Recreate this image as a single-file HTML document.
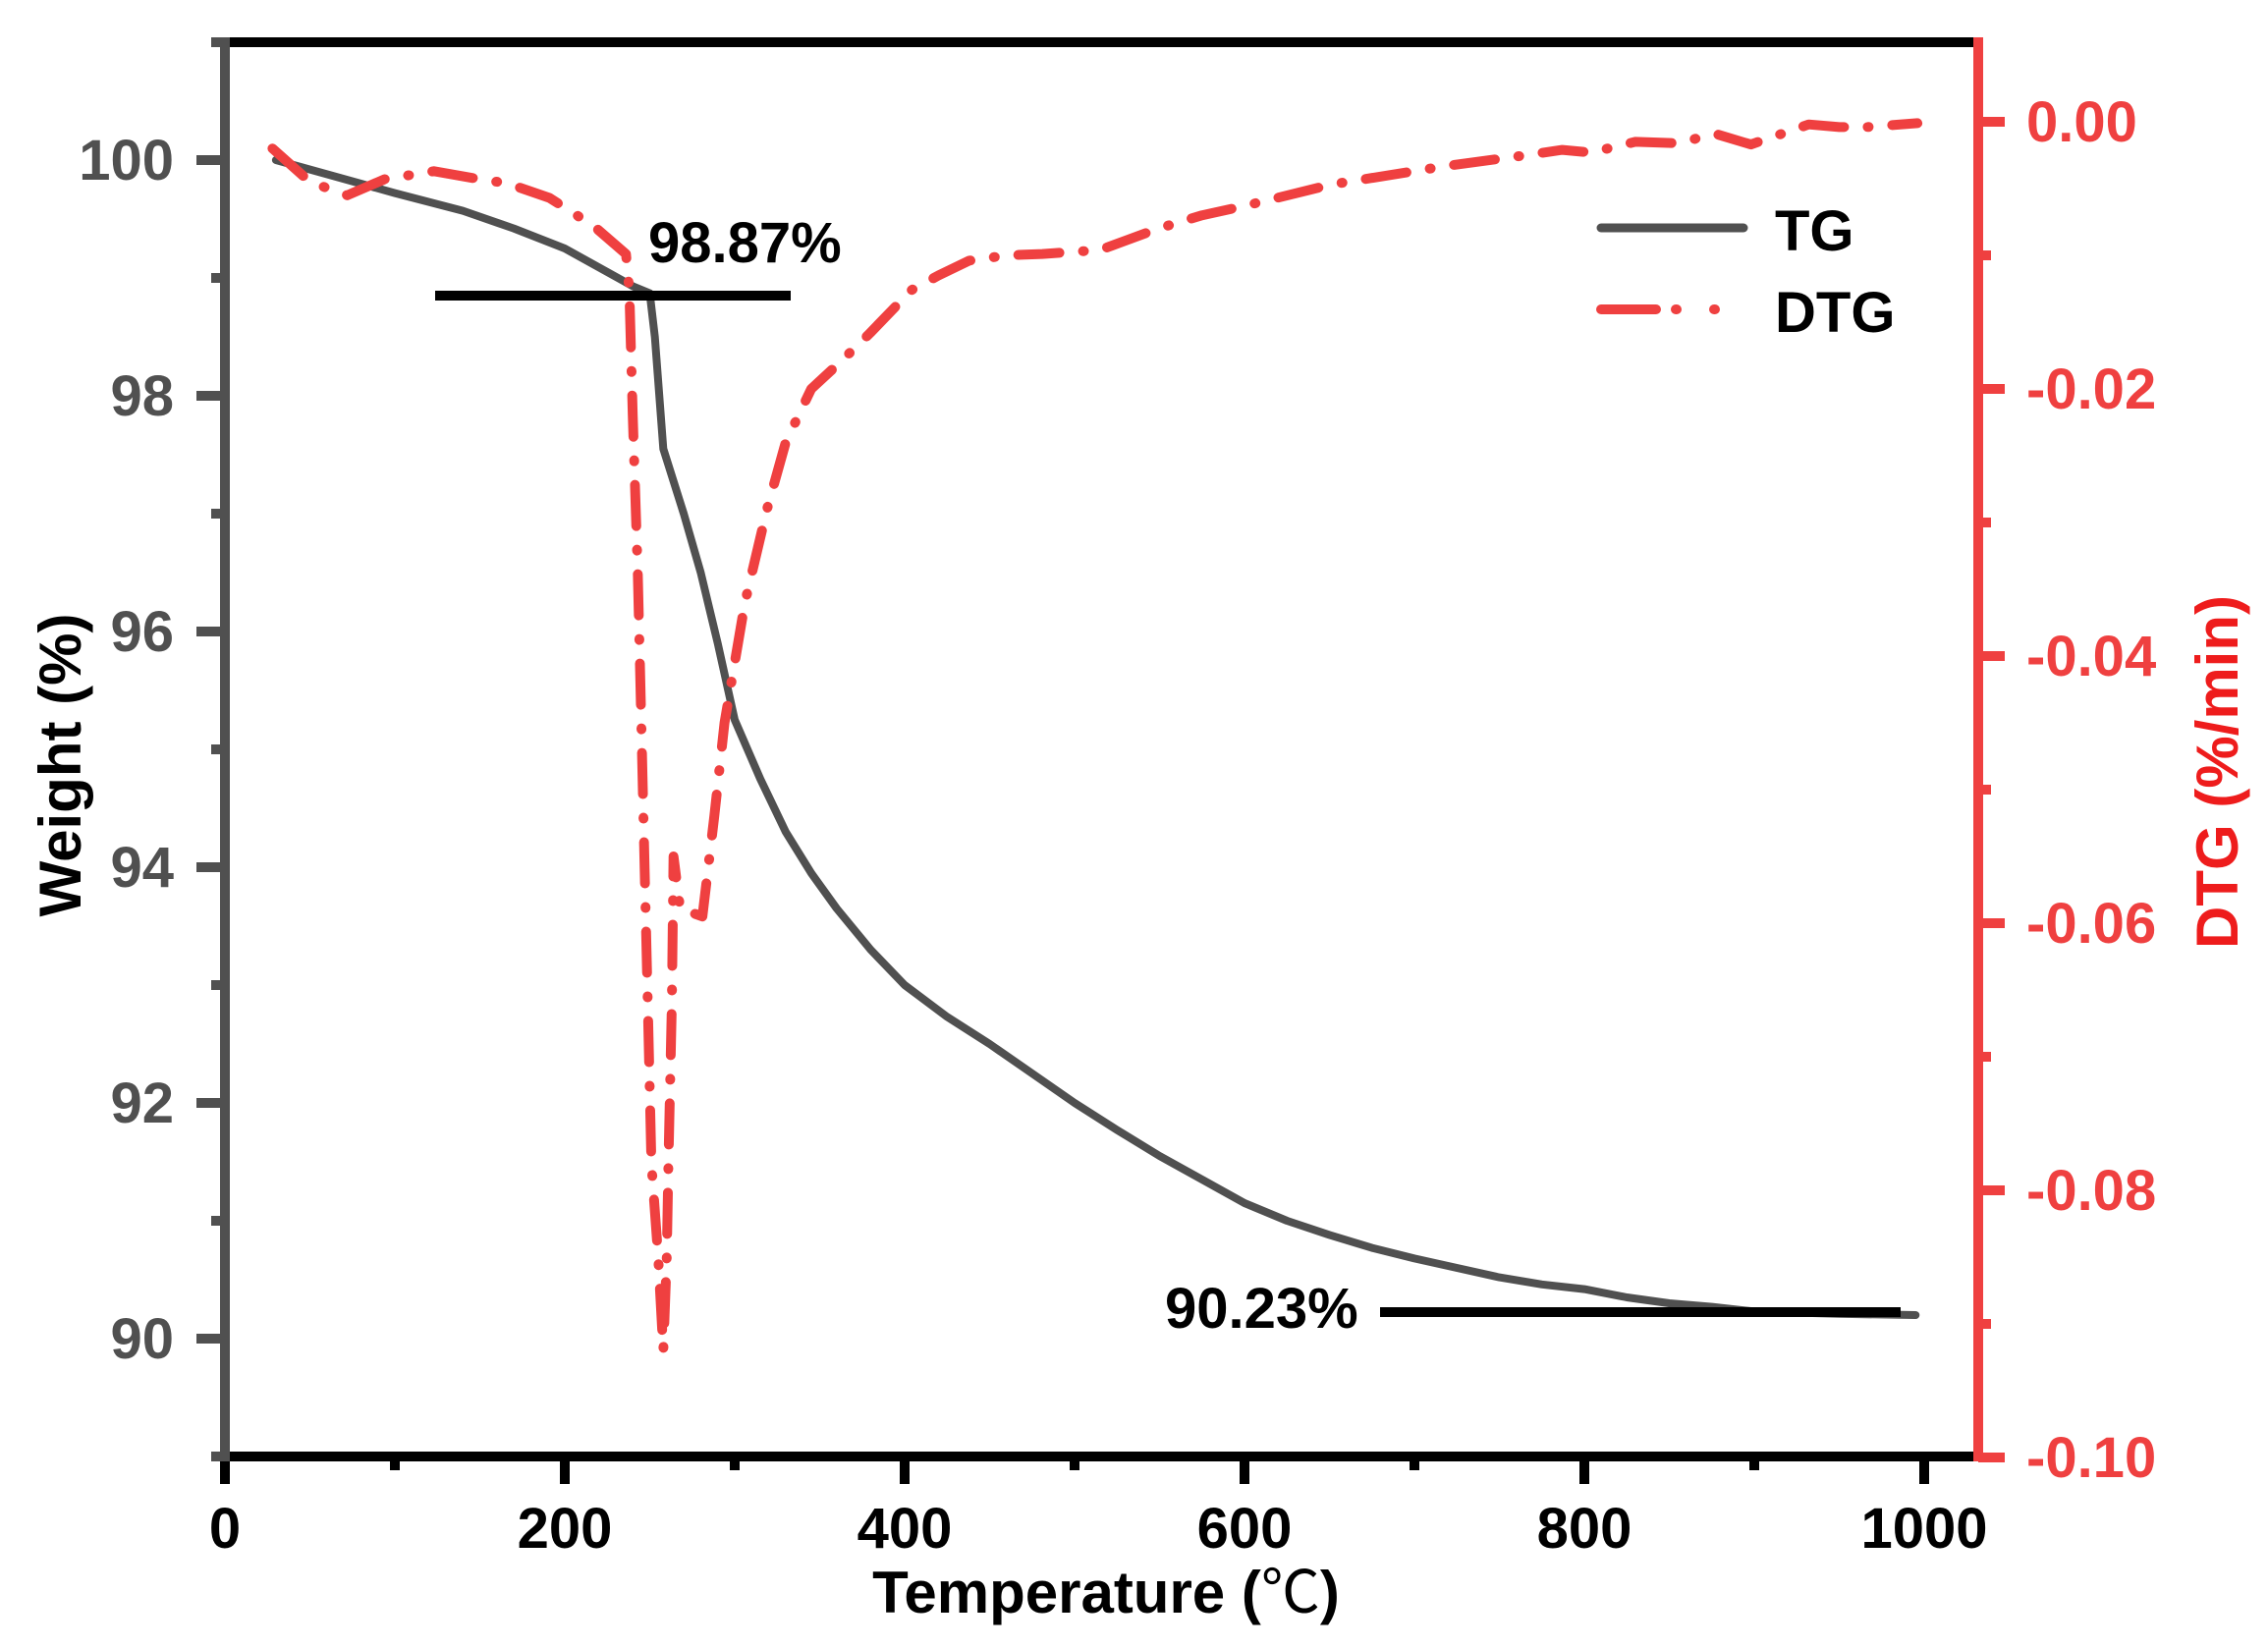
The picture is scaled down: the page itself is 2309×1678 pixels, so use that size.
<!DOCTYPE html>
<html><head><meta charset="utf-8"><style>
html,body{margin:0;padding:0;background:#fff}
svg{display:block}
text{font-family:"Liberation Sans","Noto Sans CJK SC",sans-serif;font-weight:bold}
</style></head><body>
<svg id="s" width="2309" height="1678" viewBox="0 0 2309 1678" xmlns="http://www.w3.org/2000/svg">
<g id="ticks"></g>
<path id="tg" fill="none" stroke="#505050" stroke-width="8" stroke-linejoin="round" stroke-linecap="round"/>
<path id="dtg" fill="none" stroke="#EF4040" stroke-width="10" stroke-linejoin="round" stroke-linecap="round" stroke-dasharray="42 24 1 24"/>
<line x1="443" y1="301" x2="805" y2="301" stroke="#000" stroke-width="10"/>
<line x1="1405" y1="1336" x2="1935" y2="1336" stroke="#000" stroke-width="10"/>
<text x="660" y="267" font-size="58" fill="#000">98.87%</text>
<text x="1186" y="1352" font-size="58" fill="#000">90.23%</text>
<line x1="1630" y1="232" x2="1775" y2="232" stroke="#505050" stroke-width="9" stroke-linecap="round"/>
<line x1="1630" y1="315" x2="1775" y2="315" stroke="#EF4040" stroke-width="10" stroke-linecap="round" stroke-dasharray="56 20 1 38 1 40"/>
<text x="1807" y="255" font-size="58" fill="#000">TG</text>
<text x="1807" y="338" font-size="58" fill="#000">DTG</text>
<text x="1126" y="1642" font-size="60" fill="#000" text-anchor="middle">Temperature (<tspan font-weight="normal">℃</tspan>)</text>
<text transform="translate(82,779) rotate(-90)" font-size="60" fill="#000" text-anchor="middle">Weight (%)</text>
<text transform="translate(2278,786) rotate(-90)" font-size="60" fill="#EE1C1C" text-anchor="middle">DTG (%/min)</text>
<!-- axes -->
<line x1="224" y1="43" x2="2014" y2="43" stroke="#000" stroke-width="10"/>
<line x1="224" y1="1483" x2="2014" y2="1483" stroke="#000" stroke-width="10"/>
<line x1="229" y1="38" x2="229" y2="1488" stroke="#505050" stroke-width="10"/>
<line x1="2014" y1="38" x2="2014" y2="1488" stroke="#EF4040" stroke-width="10"/>
</svg>
<script>
var X=function(t){return 229+t*1.73;};
var YL=function(w){return 163+(100-w)*120;};
var YR=function(d){return 124-d*13600;};
var tg=[[30,100.0],[60,99.88],[100,99.72],[140,99.57],[170,99.42],[200,99.25],[225,99.05],[240,98.93],[250,98.87],[253,98.5],[258,97.55],[270,97.0],[280,96.5],[290,95.9],[300,95.25],[315,94.75],[330,94.3],[345,93.95],[360,93.65],[380,93.3],[400,93.0],[425,92.73],[450,92.5],[475,92.25],[500,92.0],[525,91.77],[550,91.55],[575,91.35],[600,91.15],[625,91.0],[650,90.88],[675,90.77],[700,90.68],[725,90.6],[750,90.52],[775,90.46],[800,90.42],[825,90.35],[850,90.3],[875,90.27],[900,90.23],[950,90.21],[995,90.2]];
var dtg=[[28,-0.002],[50,-0.0045],[72,-0.0055],[94,-0.0043],[123,-0.0037],[150,-0.0043],[166,-0.0046],[191,-0.0057],[217,-0.0078],[236,-0.0099],[238,-0.0126],[240,-0.022],[243,-0.034],[245,-0.045],[247,-0.056],[249,-0.067],[251,-0.078],[255,-0.085],[258,-0.092],[260,-0.085],[261,-0.078],[263,-0.066],[264,-0.055],[268,-0.059],[270,-0.059],[281,-0.0595],[288,-0.052],[294,-0.045],[306,-0.036],[319,-0.029],[330,-0.024],[345,-0.020],[362,-0.018],[379,-0.0159],[404,-0.0126],[420,-0.0115],[438,-0.0104],[460,-0.0100],[481,-0.0099],[515,-0.0096],[549,-0.0080],[575,-0.0070],[600,-0.0063],[651,-0.0047],[685,-0.0040],[719,-0.0033],[760,-0.0026],[787,-0.0021],[804,-0.0023],[830,-0.0015],[855,-0.0016],[877,-0.0009],[898,-0.0017],[932,-0.0002],[950,-0.0004],[966,-0.0004],[996,-0.0001]];
function P(a,f){return a.map(function(p,i){return (i?"L":"M")+X(p[0]).toFixed(1)+" "+f(p[1]).toFixed(1);}).join("");}
document.getElementById("tg").setAttribute("d",P(tg,YL));
document.getElementById("dtg").setAttribute("d",P(dtg,YR));
var g=document.getElementById("ticks"),h="";
for(var t=0;t<=1000;t+=100){var x=X(t),maj=t%200==0;
 h+='<line x1="'+x+'" y1="1483" x2="'+x+'" y2="'+(maj?1511:1497)+'" stroke="#000" stroke-width="10"/>';
 if(maj)h+='<text x="'+x+'" y="1576" font-size="58" text-anchor="middle" fill="#000">'+t+'</text>';}
for(var w=89;w<=101;w++){var y=YL(w),maj=w%2==0;
 h+='<line x1="229" y1="'+y+'" x2="'+(maj?200:215)+'" y2="'+y+'" stroke="#505050" stroke-width="10"/>';
 if(maj&&w>=90&&w<=100)h+='<text x="177" y="'+(y+20)+'" font-size="58" text-anchor="end" fill="#505050">'+w+'</text>';}
for(var k=0;k<=10;k++){var d=-k*0.01,y=YR(d),maj=k%2==0;
 h+='<line x1="2014" y1="'+y+'" x2="'+(maj?2041:2027)+'" y2="'+y+'" stroke="#EF4040" stroke-width="10"/>';
 if(maj)h+='<text x="2063" y="'+(y+20)+'" font-size="58" fill="#EF4040">'+(k==0?"0.00":"-"+(k/100).toFixed(2))+'</text>';}
g.innerHTML=h;
</script>
</body></html>
